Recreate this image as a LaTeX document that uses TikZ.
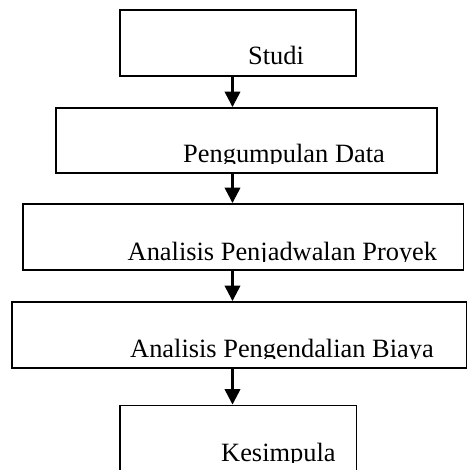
\documentclass[tikz,border=0pt]{standalone}
\usepackage{fontspec}
\setmainfont{Liberation Serif}
\usetikzlibrary{arrows.meta}
\tikzset{
  box/.style={draw=black, line width=1.9pt, rectangle, inner sep=0pt},
  lbl/.style={anchor=base west, inner sep=0pt, font=\fontsize{26.4}{30}\selectfont},
  arr/.style={line width=2.4pt, -{Triangle[length=15.5pt,width=15.5pt]}}
}
\begin{document}
\begin{tikzpicture}[x=1pt,y=-1pt]
\useasboundingbox (0,0) rectangle (467,470);
\fill[white] (0,0) rectangle (467,470);
\node[box, minimum width=236pt, minimum height=66pt] (b1) at (238,43) {};
\node[box, minimum width=381pt, minimum height=65pt] (b2) at (246.5,140.5) {};
\node[box, minimum width=440.5pt, minimum height=66pt] (b3) at (243.25,237) {};
\node[box, minimum width=454.5pt, minimum height=66pt] (b4) at (239.25,335) {};
\node[box, minimum width=236.5pt, minimum height=66.5pt] (b5) at (238.25,438.75) {};
\coordinate (ax) at (232.5,0);
\begin{scope}
\clip (b1.north west) rectangle (b1.east |- 0,66);
\node[lbl] (t1) at (248,65) {Studi};
\end{scope}
\begin{scope}
\clip (b2.north west) rectangle (b2.east |- 0,164);
\node[lbl] (t2) at (183,163) {Pengumpulan Data};
\end{scope}
\begin{scope}
\clip (b3.north west) rectangle (b3.east |- 0,261);
\node[lbl] (t3) at (127.5,260) {Analisis Penjadwalan Proyek};
\end{scope}
\begin{scope}
\clip (b4.north west) rectangle (b4.east |- 0,358.5);
\node[lbl] (t4) at (130,357.5) {Analisis Pengendalian Biaya};
\end{scope}
\begin{scope}
\clip (b5.north west) rectangle (b5.east |- 0,462.5);
\node[lbl] (t5) at (221,461.5) {Kesimpula};
\end{scope}
\draw[arr] (b1.south -| ax) -- (b2.north -| ax);
\draw[arr] (b2.south -| ax) -- (b3.north -| ax);
\draw[arr] (b3.south -| ax) -- (b4.north -| ax);
\draw[arr] (b4.south -| ax) -- (b5.north -| ax);
\end{tikzpicture}
\end{document}
